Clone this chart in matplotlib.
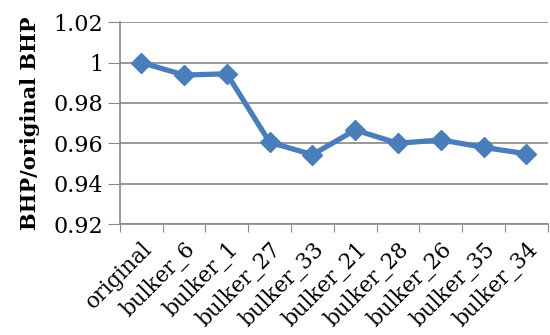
import matplotlib.pyplot as plt

# BHP ratio per vessel case
cases = ['original', 'bulker_6', 'bulker_1', 'bulker_27', 'bulker_33',
         'bulker_21', 'bulker_28', 'bulker_26', 'bulker_35', 'bulker_34']
bhp_ratio = [1.000, 0.9938, 0.9944, 0.9605, 0.9544,
             0.9666, 0.9600, 0.9617, 0.9580, 0.9548]
yticks = [0.92, 0.94, 0.96, 0.98, 1.0, 1.02]
ytick_labels = ['0.92', '0.94', '0.96', '0.98', '1', '1.02']

plt.rcParams['font.family'] = ['DejaVu Serif']

fig = plt.figure(figsize=(5.5, 3.35), dpi=100)
ax = fig.add_axes([0.218, 0.331, 0.778, 0.603])

x = range(len(cases))
ax.plot(x, bhp_ratio, color='#4A7EBB', linewidth=3.8, marker='D',
        markersize=10.5, markeredgecolor='#4A7EBB', zorder=3)

ax.set_xlim(-0.5, len(cases) - 0.5)
ax.set_ylim(0.92, 1.02)
ax.set_yticks(yticks)
ax.set_yticklabels(ytick_labels, fontsize=16)
ax.set_xticks([i - 0.5 for i in range(len(cases) + 1)], minor=False)
ax.set_xticklabels([])
ax.set_xticks(list(x), minor=True)
ax.set_xticklabels(cases, minor=True, rotation=45, ha='right',
                   rotation_mode='anchor', fontsize=15.5)

ax.grid(axis='y', color='#888888', linewidth=1.2)
ax.set_axisbelow(True)
for side in ['top', 'right']:
    ax.spines[side].set_visible(False)
for side in ['left', 'bottom']:
    ax.spines[side].set_color('#888888')
    ax.spines[side].set_linewidth(1.2)
ax.tick_params(axis='y', length=9, color='#888888', direction='out', pad=3)
ax.tick_params(axis='x', which='major', length=6, color='#888888')
ax.tick_params(axis='x', which='minor', length=0, pad=10)

ax.set_ylabel('BHP/original BHP', fontsize=15, fontweight='bold', labelpad=10)

fig.savefig('out.png', dpi=100)
